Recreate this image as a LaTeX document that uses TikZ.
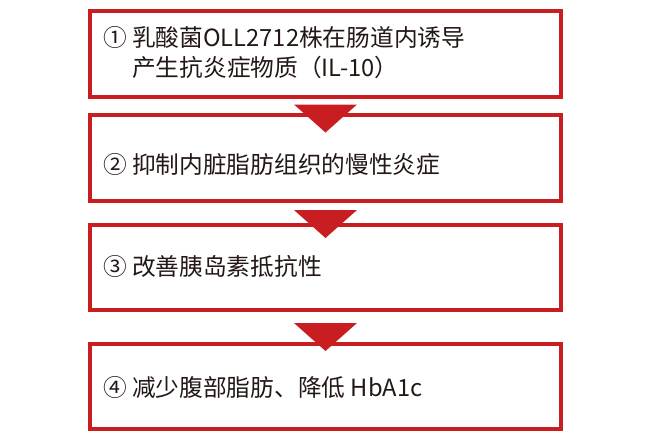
\documentclass[tikz,border=0pt]{standalone}
\usepackage{fontspec}
\newfontfamily\cjk{Noto Sans CJK SC}
\usepackage{tikz}
\definecolor{boxred}{RGB}{200,30,33}
\definecolor{textdark}{RGB}{35,24,21}

\begin{document}
\begin{tikzpicture}[x=1pt,y=-1pt]
% Box style
\tikzset{
    redbox/.style={draw=boxred, line width=4pt, minimum width=471pt,
        minimum height=86pt, inner sep=0pt},
    steptext/.style={anchor=west, inner sep=0pt, align=left, text=textdark,
        font=\cjk\fontsize{23.7}{30}\selectfont},
    redtri/.style={fill=boxred}
}
\useasboundingbox (0,0) rectangle (650,440);
% Boxes
\draw (325.5,54) node[redbox] (Boxa){};
\draw (325.5,158) node[redbox] (Boxb){};
\draw (325.5,267.5) node[redbox, minimum height=85pt] (Boxc){};
\draw (325.5,386.5) node[redbox, minimum height=85pt] (Boxd){};
% Texts
\path (Boxa.west) ++(15,-1.5) node[steptext] (Texta){① 乳酸菌OLL2712株在肠道内诱导\\\phantom{① }产生抗炎症物质（IL-10）};
\path (Boxb.west) ++(15,6) node[steptext] (Textb){② 抑制内脏脂肪组织的慢性炎症};
\path (Boxc.west) ++(15,-1.5) node[steptext] (Textc){③ 改善胰岛素抵抗性};
\path (Boxd.west) ++(15,1) node[steptext] (Textd){④ 减少腹部脂肪、降低 HbA1c};
% Arrows
\fill[redtri] (Boxb.north) ++(-31.5,-8.5) -- ++(63,0) -- ++(-31.5,28) -- cycle;
\fill[redtri] (Boxc.north) ++(-31.5,-13) -- ++(63,0) -- ++(-31.5,28) -- cycle;
\fill[redtri] (Boxd.north) ++(-31.5,-19) -- ++(63,0) -- ++(-31.5,28) -- cycle;
\end{tikzpicture}
\end{document}
